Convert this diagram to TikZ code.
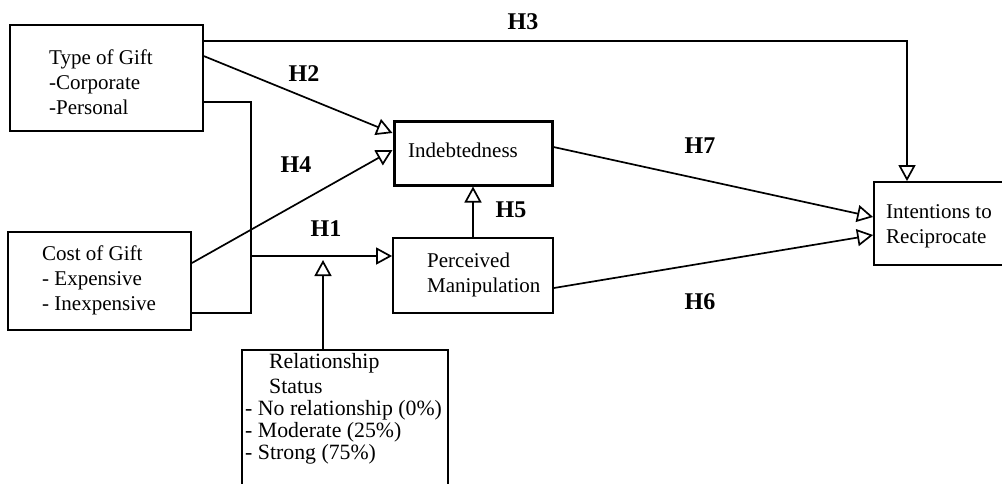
\documentclass[tikz,border=0pt]{standalone}
\usepackage{fontspec}
\setmainfont{Liberation Serif}
\usetikzlibrary{arrows.meta}
\begin{document}
\begin{tikzpicture}[x=1pt,y=-1pt,
  box/.style={draw, line width=1.8pt, rectangle, inner sep=0pt},
  txt/.style={font=\fontsize{21}{25}\selectfont, align=left, inner sep=0pt, anchor=west},
  hlab/.style={font=\fontsize{24}{24}\selectfont\bfseries, inner sep=0pt},
  conn/.style={line width=1.7pt},
  arr/.style={conn, -{Triangle[open, length=16pt, width=17pt, line width=1.7pt]}}
]
\useasboundingbox (0,0) rectangle (1002,483);
\clip (0,0) rectangle (1002,483);

% boxes
\node[box, minimum width=193pt, minimum height=106pt] (type) at (106.5,78) {};
\node[txt] (typet) at (49,82) {Type of Gift\\-Corporate\\-Personal};

\node[box, minimum width=183pt, minimum height=98pt] (cost) at (99.5,281) {};
\node[txt] (costt) at (42,280) {Cost of Gift\\- Expensive\\- Inexpensive};

\node[box, line width=3pt, minimum width=158pt, minimum height=64pt] (indeb) at (473,153) {};
\node[txt] (indebt) at (408,150) {Indebtedness};

\node[box, minimum width=160pt, minimum height=75pt] (pm) at (473,275.5) {};
\node[txt] (pmt) at (427,275) {Perceived\\Manipulation};

\node[box, minimum width=138pt, minimum height=83pt] (intent) at (943,223.5) {};
\node[txt] (intentt) at (886,226) {Intentions to\\Reciprocate};

\node[box, minimum width=206pt, minimum height=160pt] (rel) at (345,430) {};
\node[txt, font=\fontsize{21.8}{22}\selectfont] (relt) at (245,408.5)
  {\hspace*{24pt}Relationship\\[3pt]\hspace*{24pt}Status\\- No relationship (0\%)\\- Moderate (25\%)\\- Strong (75\%)};

% helper coordinates
\coordinate (h3x) at (907,0);
\coordinate (jbot) at (251,313);
\coordinate (j1) at (251,256);
\coordinate (mod) at (323,260);

% connectors
\draw[arr] ([yshift=-17pt]type.north east) -| (intent.north -| h3x);
\draw[arr] ([yshift=-32pt]type.north east) -- ([yshift=20pt]indeb.west);
\draw[arr] ([yshift=18pt]cost.east) -- ([yshift=3pt]indeb.west);
\draw[conn] ([yshift=-78pt]type.north east) -| (jbot) -- ([yshift=-32pt]cost.east);
\draw[arr] (j1) -- (pm.west |- j1);
\draw[arr] (rel.north -| mod) -- (mod);
\draw[arr] (pm.north) -- (indeb.south);
\draw[arr] ([yshift=6pt]indeb.east) -- ([yshift=6.5pt]intent.west);
\draw[arr] ([yshift=-12.5pt]pm.east) -- ([yshift=-11.5pt]intent.west);

% labels
\node[hlab] (lh3) at (523,22) {H3};
\node[hlab] (lh2) at (304,74) {H2};
\node[hlab] (lh4) at (296,165) {H4};
\node[hlab] (lh1) at (326,229) {H1};
\node[hlab] (lh5) at (511,210) {H5};
\node[hlab] (lh7) at (700,146) {H7};
\node[hlab] (lh6) at (700,302) {H6};
\end{tikzpicture}
\end{document}
